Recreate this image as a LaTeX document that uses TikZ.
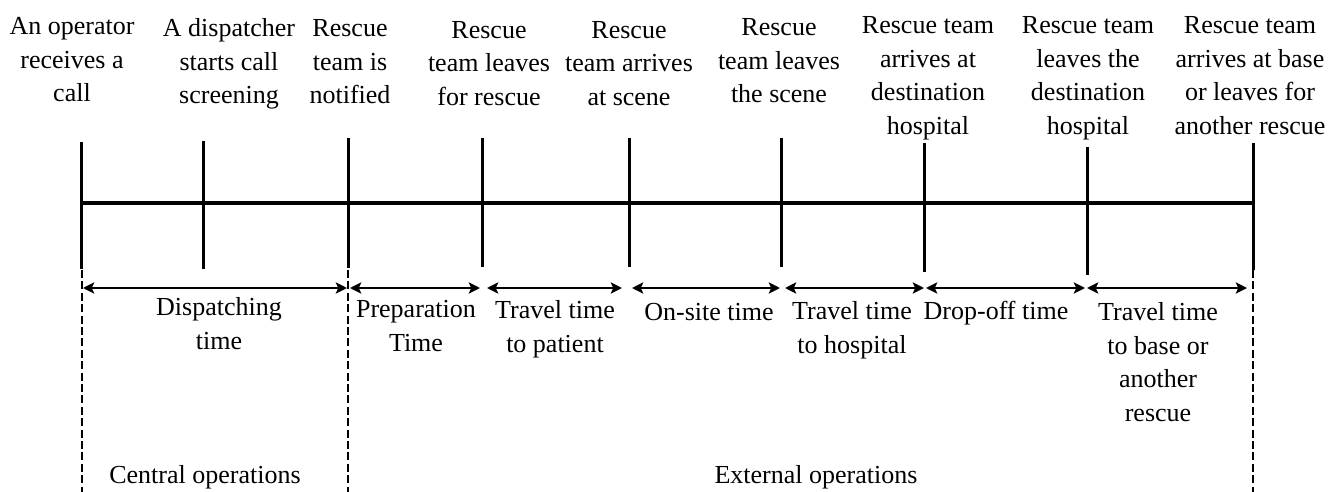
\documentclass[tikz,border=0pt]{standalone}
\usepackage{fontspec}
\setmainfont{Liberation Serif}
\usetikzlibrary{arrows.meta}
\tikzset{
  % labels are placed by the baseline of their last line
  lbl/.style={anchor=base, align=center, inner sep=0pt,
    font=\fontsize{13pt}{16.75pt}\selectfont},
  axis/.style={line width=1.65pt},
  tick/.style={line width=1.5pt},
  span/.style={line width=1.45pt, {Stealth[length=5.6pt,width=5.6pt,inset=1.2pt]}-{Stealth[length=5.6pt,width=5.6pt,inset=1.2pt]}},
  divider/.style={line width=1.35pt, dash pattern=on 4pt off 1.7pt},
}
\begin{document}
\begin{tikzpicture}[x=0.5pt,y=-0.5pt]
\useasboundingbox (0,0) rectangle (1343,492);

% event labels along the top
\node[lbl] (e1) at (72,102)   {An operator\\receives a\\call};
\node[lbl] (e2) at (229,104)  {A dispatcher\\starts call\\screening};
\node[lbl] (e3) at (350,104)  {Rescue\\team is\\notified};
\node[lbl] (e4) at (489,105)  {Rescue\\team leaves\\for rescue};
\node[lbl] (e5) at (629,105)  {Rescue\\team arrives\\at scene};
\node[lbl] (e6) at (779,103)  {Rescue\\team leaves\\the scene};
\node[lbl] (e7) at (928,134)  {Rescue team\\arrives at\\destination\\hospital};
\node[lbl] (e8) at (1088,134) {Rescue team\\leaves the\\destination\\hospital};
\node[lbl] (e9) at (1250,134) {Rescue team\\arrives at base\\or leaves for\\another rescue};

% tick end points
\coordinate (t1a) at (81,142);   \coordinate (t1b) at (81,269);
\coordinate (t2a) at (203,141);  \coordinate (t2b) at (203,269);
\coordinate (t3a) at (348,138);  \coordinate (t3b) at (348,268);
\coordinate (t4a) at (482,138);  \coordinate (t4b) at (482,267);
\coordinate (t5a) at (629,138);  \coordinate (t5b) at (629,267);
\coordinate (t6a) at (781,138);  \coordinate (t6b) at (781,267);
\coordinate (t7a) at (924,143);  \coordinate (t7b) at (924,272);
\coordinate (t8a) at (1087,147); \coordinate (t8b) at (1087,275);
\coordinate (t9a) at (1253,143); \coordinate (t9b) at (1253,270);

% time axis
\coordinate (axL) at (81,203);
\coordinate (axR) at (1253,203);
\draw[axis] (axL) -- (axR);
\foreach \i in {1,...,9} \draw[tick] (t\i a) -- (t\i b);

% dividers between central and external operations
\coordinate (d1a) at (82,270);   \coordinate (d1b) at (82,492);
\coordinate (d2a) at (348,270);  \coordinate (d2b) at (348,492);
\coordinate (d3a) at (1253,270); \coordinate (d3b) at (1253,492);
\draw[divider] (d1a) -- (d1b);
\draw[divider] (d2a) -- (d2b);
\draw[divider] (d3a) -- (d3b);

% interval arrows
\coordinate (s1a) at (83,288);   \coordinate (s1b) at (347,288);
\coordinate (s2a) at (350,288);  \coordinate (s2b) at (480,288);
\coordinate (s3a) at (487,288);  \coordinate (s3b) at (622,288);
\coordinate (s4a) at (632,288);  \coordinate (s4b) at (780,288);
\coordinate (s5a) at (785,288);  \coordinate (s5b) at (924,288);
\coordinate (s6a) at (926,288);  \coordinate (s6b) at (1085,288);
\coordinate (s7a) at (1087,288); \coordinate (s7b) at (1247,288);
\foreach \i in {1,...,7} \draw[span] (s\i a) -- (s\i b);

% interval labels
\node[lbl] (i1) at (219,349)  {Dispatching\\time};
\node[lbl] (i2) at (416,351)  {Preparation\\Time};
\node[lbl] (i3) at (555,352)  {Travel time\\to patient};
\node[lbl] (i4) at (709,320)  {On-site time};
\node[lbl] (i5) at (852,353)  {Travel time\\to hospital};
\node[lbl] (i6) at (996,319)  {Drop-off time};
\node[lbl] (i7) at (1158,421) {Travel time\\to base or\\another\\rescue};

% phase labels
\node[lbl] (p1) at (205,483) {Central operations};
\node[lbl] (p2) at (816,483) {External operations};
\end{tikzpicture}
\end{document}
